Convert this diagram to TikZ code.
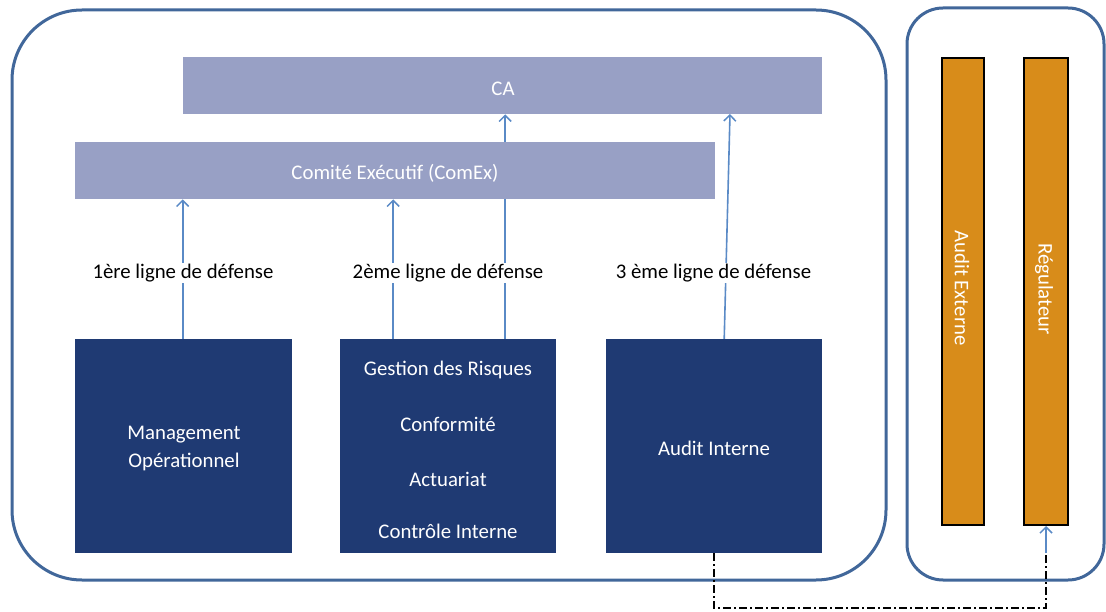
\documentclass[tikz,border=0pt]{standalone}
\usepackage{fontspec}
\setmainfont{Carlito}
\usetikzlibrary{arrows.meta,backgrounds}
\definecolor{panelblue}{HTML}{41679A}
\definecolor{lilac}{HTML}{98A0C5}
\definecolor{navy}{HTML}{1F3A73}
\definecolor{ochre}{HTML}{D88C1A}
\definecolor{arrowblue}{HTML}{5A8AC6}
\tikzset{
  panel/.style={draw=panelblue, line width=3pt},
  govbar/.style={fill=lilac, draw=none, inner sep=0pt},
  unitbox/.style={fill=navy, draw=none, inner sep=0pt},
  extbar/.style={fill=ochre, draw=black, line width=2pt, inner sep=0pt},
  vtext/.style={text=white, font=\fontsize{20.8}{25}\selectfont, rotate=-90},
  wtext/.style={text=white, font=\fontsize{20.8}{28}\selectfont, yshift=-2pt},
  lineof/.style={fill=white, inner sep=0.5pt, font=\fontsize{20.8}{25}\selectfont, yshift=-2pt},
  upar/.style={draw=arrowblue, line width=1.6pt, -{Straight Barb[length=6pt,width=12pt,line width=1.5pt]}},
  dashlink/.style={draw=black, line width=1.3pt, dash pattern=on 8pt off 3pt on 2pt off 3pt}
}
\begin{document}
\begin{tikzpicture}[x=1pt,y=-1pt]
\useasboundingbox (0,0) rectangle (1106,612);
% panels
\draw[panel, rounded corners=70pt] (12,10) rectangle (886,580);
\draw[panel, rounded corners=36pt] (907,8) rectangle (1104,580);
% governance bars
\node[govbar, minimum width=639pt, minimum height=57pt, anchor=north west] (ca) at (183,57) {};
\node[wtext] at (503,87) {CA};
\node[govbar, minimum width=640pt, minimum height=57pt, anchor=north west] (comex) at (75,142) {};
\node[wtext] at (395,171) {Comité Exécutif (ComEx)};
% units
\node[unitbox, minimum width=217pt, minimum height=214pt, anchor=north west] (mgmt) at (75,339) {};
\node[wtext, align=center] at (184,447) {Management\\Opérationnel};
\node[unitbox, minimum width=216pt, minimum height=214pt, anchor=north west] (risk) at (340,339) {};
\node[wtext] at (448,368) {Gestion des Risques};
\node[wtext] at (448,422) {Conformité};
\node[wtext] at (448,477) {Actuariat};
\node[wtext] at (448,529) {Contrôle Interne};
\node[unitbox, minimum width=216pt, minimum height=214pt, anchor=north west] (audit) at (606,339) {};
\node[wtext] at (714,446) {Audit Interne};
% external bars
\node[extbar, minimum width=42pt, minimum height=467pt, anchor=north west] (ext) at (941,57) {};
\node[vtext] at (962,288) {Audit Externe};
\node[extbar, minimum width=44pt, minimum height=467pt, anchor=north west] (reg) at (1023,57) {};
\node[vtext] at (1044,289) {Régulateur};
% arrows (behind boxes)
\begin{pgfonlayer}{background}
\draw[upar] ([xshift=-1pt]mgmt.north) -- ([xshift=-1pt]mgmt.north |- comex.south);
\draw[upar] ([xshift=-55pt]risk.north) -- ([xshift=-55pt]risk.north |- comex.south);
\draw[upar] ([xshift=57pt]risk.north) -- ([xshift=57pt]risk.north |- ca.south);
\coordinate (a3) at ([xshift=10pt]audit.north);
\coordinate (c3) at (730,114);
\draw[upar] (a3) -- (c3);
\end{pgfonlayer}
% line labels
\node[lineof] at (183,271) {1ère ligne de défense};
\node[lineof] at (448,271) {2ème ligne de défense};
\node[lineof] at (713.5,271) {3 ème ligne de défense};
% dashed link
\coordinate (d1) at (714,608);
\coordinate (d2) at (1046,608);
\coordinate (d3) at (1046,553);
\draw[dashlink] (audit.south -| d1) -- (d1) -- (d2) -- (d3);
\draw[upar] (d3) -- (d3 |- reg.south);
\end{tikzpicture}
\end{document}
